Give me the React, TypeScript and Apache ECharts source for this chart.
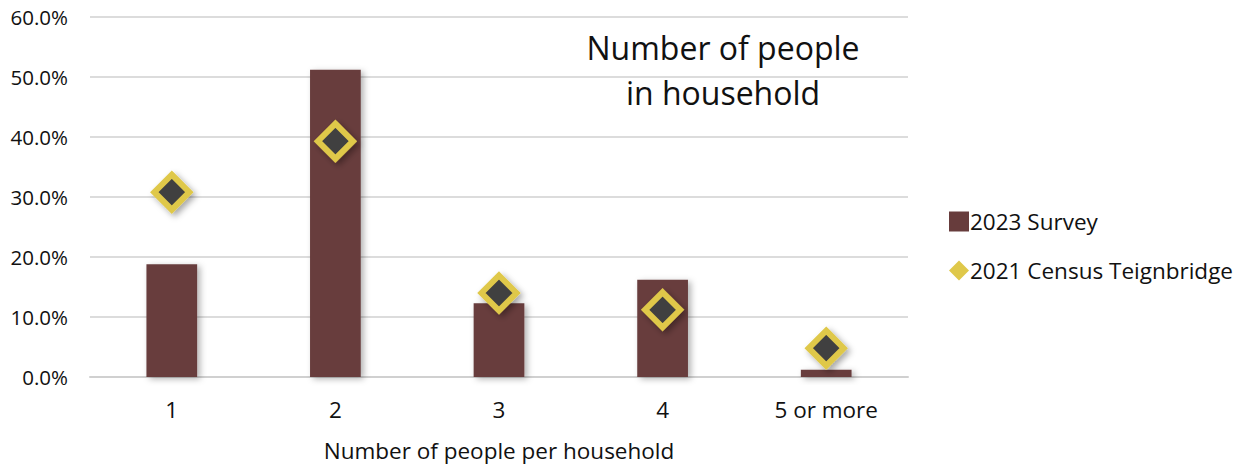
import React, { useEffect, useRef } from "react";
import * as echarts from "echarts";

const categories = ["1", "2", "3", "4", "5 or more"];
const survey2023 = [18.8, 51.2, 12.3, 16.2, 1.2];
const census2021 = [30.8, 39.3, 14.0, 11.2, 4.8];
const yTicks = { min: 0, max: 60, interval: 10 };

const FONT = "'Open Sans', 'Noto Sans', sans-serif";

export default function App() {
  const ref = useRef<HTMLDivElement>(null);
  useEffect(() => {
    if (!ref.current) return;
    const chart = echarts.init(ref.current, null, { renderer: "svg" });
    chart.setOption({
      animation: false,
      backgroundColor: "#ffffff",
      textStyle: { fontFamily: FONT },
      title: {
        text: "Number of people\nin household",
        left: 718,
        top: 20,
        textAlign: "center",
        textStyle: {
          fontFamily: FONT,
          fontSize: 32,
          fontWeight: "normal",
          color: "#111",
          lineHeight: 45,
        },
      },
      legend: {
        orient: "vertical",
        left: 944,
        top: 205,
        itemGap: 26,
        itemWidth: 20,
        itemHeight: 20,
        textStyle: { fontFamily: FONT, fontSize: 22.5, color: "#111", padding: [0, 0, 0, -4] },
        data: [
          { name: "2023 Survey", icon: "rect", itemStyle: { color: "#673c3c", shadowBlur: 0 } },
          {
            name: "2021 Census Teignbridge",
            icon: "diamond",
            itemStyle: { color: "#dfc84a", borderColor: "#dfc84a", borderWidth: 0, shadowBlur: 0 },
          },
        ],
      },
      grid: { left: 90, right: 350, top: 17, bottom: 93, containLabel: false },
      xAxis: {
        type: "category",
        data: categories,
        axisTick: { show: false },
        axisLine: { lineStyle: { color: "#d0d0d0", width: 2 } },
        axisLabel: { fontFamily: FONT, fontSize: 22.5, color: "#111", margin: 21 },
        name: "Number of people per household",
        nameLocation: "middle",
        nameGap: 62,
        nameTextStyle: { fontFamily: FONT, fontSize: 22.5, color: "#111" },
      },
      yAxis: {
        type: "value",
        min: yTicks.min,
        max: yTicks.max,
        interval: yTicks.interval,
        axisLine: { show: false },
        axisTick: { show: false },
        splitLine: { lineStyle: { color: "#dcdcdc", width: 2 } },
        axisLabel: {
          fontFamily: FONT,
          fontSize: 20.5,
          color: "#111",
          margin: 22,
          formatter: (v: number) => v.toFixed(1) + "%",
        },
      },
      series: [
        {
          name: "2023 Survey",
          type: "bar",
          data: survey2023,
          barWidth: "31%",
          itemStyle: {
            color: "#673c3c",
            shadowBlur: 6,
            shadowOffsetX: 3,
            shadowOffsetY: 2,
            shadowColor: "rgba(0,0,0,0.3)",
          },
        },
        {
          name: "2021 Census Teignbridge",
          type: "line",
          data: census2021,
          lineStyle: { width: 0 },
          symbol: "diamond",
          symbolSize: 35,
          itemStyle: {
            color: "#404040",
            borderColor: "#dfc84a",
            borderWidth: 6,
            shadowBlur: 6,
            shadowOffsetX: 3,
            shadowOffsetY: 3,
            shadowColor: "rgba(0,0,0,0.35)",
          },
          z: 3,
        },
      ],
    });
    return () => chart.dispose();
  }, []);
  return <div ref={ref} style={{ width: 1258, height: 470, position: "absolute", left: 0, top: 0 }} />;
}
